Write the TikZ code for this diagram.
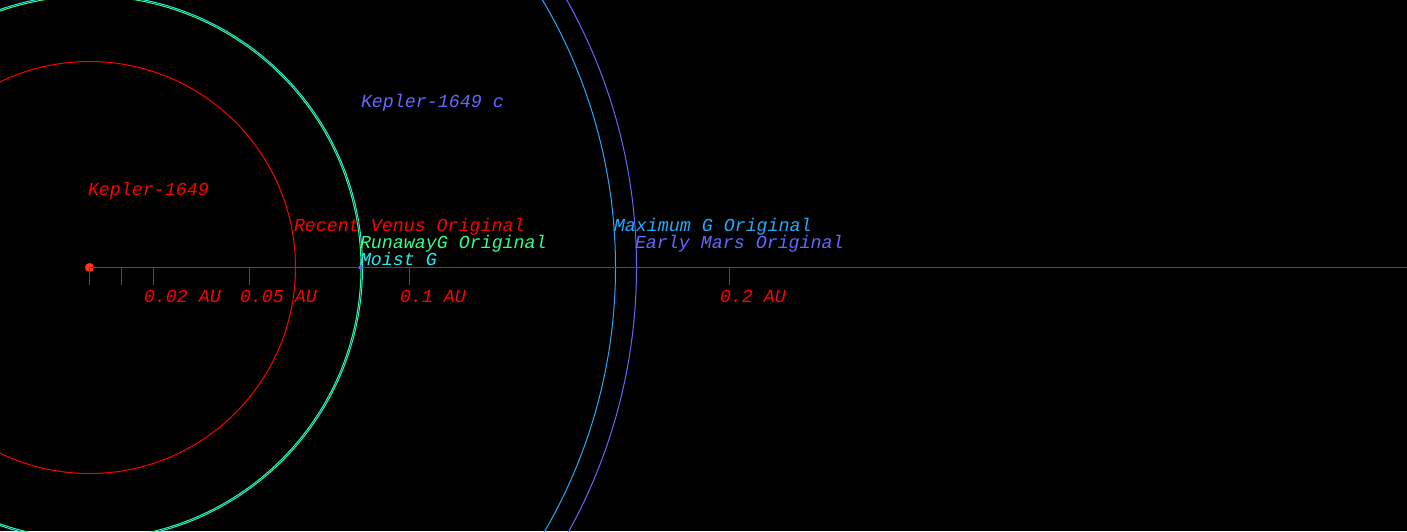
\documentclass[tikz,border=0pt]{standalone}
\usepackage{fontspec}
\setmonofont{Liberation Mono}
\definecolor{cRed}{RGB}{255,0,0}
\definecolor{cStar}{RGB}{255,51,34}
\definecolor{cGreen}{RGB}{51,255,136}
\definecolor{cCyan}{RGB}{34,238,238}
\definecolor{cMax}{RGB}{34,170,255}
\definecolor{cMars}{RGB}{102,102,255}
\begin{document}
\begin{tikzpicture}[x=1pt,y=-1pt,
  lbl/.style={anchor=base west,inner sep=0pt,outer sep=0pt,font=\fontsize{18.3}{20}\selectfont\ttfamily\itshape},
  orbit/.style={line width=1pt},
  tick/.style={draw=cRed,line width=1pt}]
\useasboundingbox (0,0) rectangle (1407,531);
\fill[black] (0,0) rectangle (1407,531);
\begin{scope}
\clip (0,0) rectangle (1407,531);
% zones
\draw[orbit,cRed] (89.5,267.5) circle[radius=206];
\draw[orbit,cGreen] (89.5,267.5) circle[radius=271.5];
\draw[orbit,cCyan] (89.5,267.5) circle[radius=273];
\draw[orbit,cMax] (89.5,267.5) circle[radius=526];
\draw[orbit,cMars] (89.5,267.5) circle[radius=547];
\end{scope}
% axis
\node[circle,fill=cStar,inner sep=0pt,minimum size=9pt] (star) at (89.5,267.5) {};
\coordinate (axend) at (1407,267.5);
\draw[cRed,line width=1pt] (star.center) -- (axend);
\foreach \x/\n in {89.5/t0,121.5/t1,153.5/t2,249.5/t5,409.5/t10,729.5/t20}{
  \coordinate (\n) at (\x,267.5);
  \coordinate (\n b) at (\x,285);
  \draw[tick] (\n) -- (\n b);
}
\node[lbl,text=cRed] (l2) at (144,302) {0.02 AU};
\node[lbl,text=cRed] (l5) at (240,302) {0.05 AU};
\node[lbl,text=cRed] (l10) at (400,302) {0.1 AU};
\node[lbl,text=cRed] (l20) at (720,302) {0.2 AU};
% planet
\node[circle,fill=cMars,inner sep=0pt,minimum size=4pt] (planet) at (360.5,267.5) {};
% labels
\node[lbl,text=cRed] (starl) at (88,195) {Kepler-1649};
\node[lbl,text=cMars] (planl) at (361,107) {Kepler-1649 c};
\node[lbl,text=cRed] (rv) at (294,231) {Recent Venus Original};
\node[lbl,text=cGreen] (rg) at (360,248) {RunawayG Original};
\node[lbl,text=cCyan] (mg) at (360,265) {Moist G};
\node[lbl,text=cMax] (mx) at (614,231) {Maximum G Original};
\node[lbl,text=cMars] (em) at (635,248) {Early Mars Original};
\end{tikzpicture}
\end{document}
